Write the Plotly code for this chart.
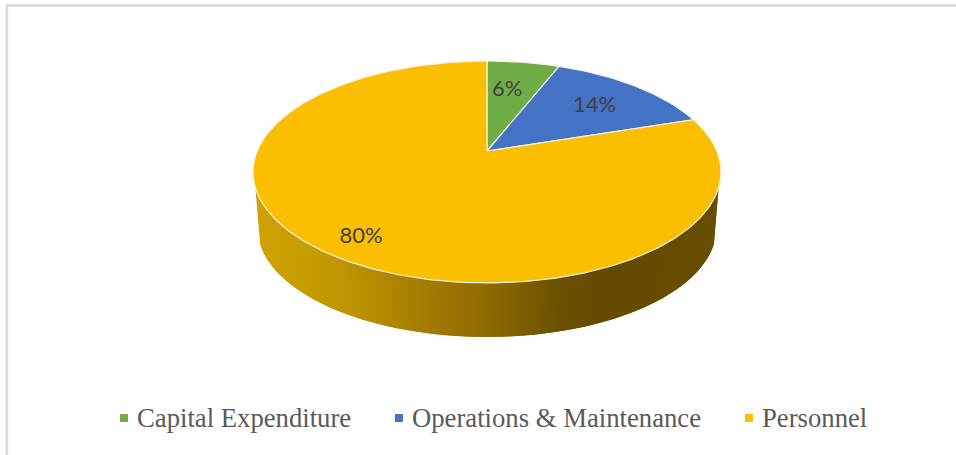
import numpy as np
import plotly.graph_objects as go

CATEGORIES = ["Capital Expenditure", "Operations & Maintenance", "Personnel"]
VALUES = [6, 14, 80]
COLORS = ["#70AD47", "#4472C4", "#FBBF00"]

# Projection of the tilted disc (pixel-ranged hidden axes)
CX, CY, A, B, K = 487.0, 151.0, 229.8, 107.0, 0.189
LOWER_SCALE, LOWER_CY = 0.98, 207.6
SIDE_LIMIT = 109.0
LABEL_RADIUS = [0.63, 0.70, 0.85]
LABEL_SHIFT_X = [-4, 0, 6]
LABEL_SHIFT_Y = [-1, 3, 2]
GRAD_X = [253, 340, 400, 487, 560, 600, 721]
GRAD_RGB = [(207, 164, 0), (192, 150, 0), (171, 130, 0), (141, 106, 0), (106, 79, 0), (101, 75, 0), (104, 78, 0)]
LEGEND_SWATCH_X = [124, 399, 749]
LEGEND_TEXT_X = [135, 410, 760]
LEGEND_Y = 418


def project(theta_deg, r=1.0, scale=1.0, cy=CY):
    t = np.radians(theta_deg)
    w = 1 + K * r * np.cos(t)
    return CX + scale * A * r * np.sin(t) / w, cy - scale * B * r * np.cos(t) / w


fig = go.Figure()

# Side wall: thin overlapping quads shaded horizontally, painted left to right
edges = np.linspace(360 - SIDE_LIMIT, SIDE_LIMIT, 141)
step = abs(edges[1] - edges[0])
for a0, a1 in zip(edges[:-1], edges[1:]):
    a_end = max(a1 - step, SIDE_LIMIT)  # overlap the next quad so no seams appear
    x0, y0 = project(a0)
    x1, y1 = project(a_end)
    x2, y2 = project(a_end, scale=LOWER_SCALE, cy=LOWER_CY)
    x3, y3 = project(a0, scale=LOWER_SCALE, cy=LOWER_CY)
    xm = (x0 + x3) / 2
    rgb = [np.interp(xm, GRAD_X, [c[i] for c in GRAD_RGB]) for i in range(3)]
    col = f"rgb({rgb[0]:.0f},{rgb[1]:.0f},{rgb[2]:.0f})"
    fig.add_trace(go.Scatter(x=[x0, x1, x2, x3, x0], y=[y0, y1, y2, y3, y0], mode="none",
                             fill="toself", fillcolor=col,
                             hoverinfo="skip", showlegend=False))

# Top face
cum = np.concatenate([[0], np.cumsum(VALUES)]) / sum(VALUES) * 360
for i, name in enumerate(CATEGORIES):
    th = np.linspace(cum[i], cum[i + 1], max(int(VALUES[i] * 4), 8))
    ex, ey = project(th)
    xs = np.concatenate([[CX], ex, [CX]])
    ys = np.concatenate([[CY], ey, [CY]])
    fig.add_trace(go.Scatter(x=xs, y=ys, mode="lines", fill="toself", fillcolor=COLORS[i],
                             line=dict(color="#F4F1E6", width=1.2), name=name,
                             hoverinfo="name", showlegend=False))

# Data labels
mids = (cum[:-1] + cum[1:]) / 2
lx, ly = project(mids, r=np.array(LABEL_RADIUS))
fig.add_trace(go.Scatter(x=lx + np.array(LABEL_SHIFT_X), y=ly + np.array(LABEL_SHIFT_Y), mode="text",
                         text=[f"{v}%" for v in VALUES], textposition="middle center",
                         textfont=dict(family="Lato", size=22, color="#404040"),
                         hoverinfo="skip", showlegend=False))

# Legend
fig.add_trace(go.Scatter(x=LEGEND_SWATCH_X, y=[LEGEND_Y] * 3, mode="markers",
                         marker=dict(symbol="square", size=8, color=COLORS, line=dict(width=0)),
                         hoverinfo="skip", showlegend=False))
for tx, name in zip(LEGEND_TEXT_X, CATEGORIES):
    fig.add_annotation(x=tx, y=LEGEND_Y, text=name, showarrow=False, xanchor="left", yanchor="middle",
                       font=dict(family="Liberation Serif", size=26.7, color="#595959"))

# Frame
for x0, y0, x1, y1 in [(6, 5.5, 956, 5.5), (7, 5, 7, 455)]:
    fig.add_shape(type="line", x0=x0, y0=y0, x1=x1, y1=y1, line=dict(color="#D9D9D9", width=2.5))

fig.update_layout(
    width=956, height=455, margin=dict(l=0, r=0, t=0, b=0),
    paper_bgcolor="white", plot_bgcolor="white", showlegend=False,
    xaxis=dict(range=[0, 956], visible=False),
    yaxis=dict(range=[455, 0], visible=False),
)
fig.write_html("out.html", config={"displayModeBar": False}, post_script="document.body.style.margin='0';")
